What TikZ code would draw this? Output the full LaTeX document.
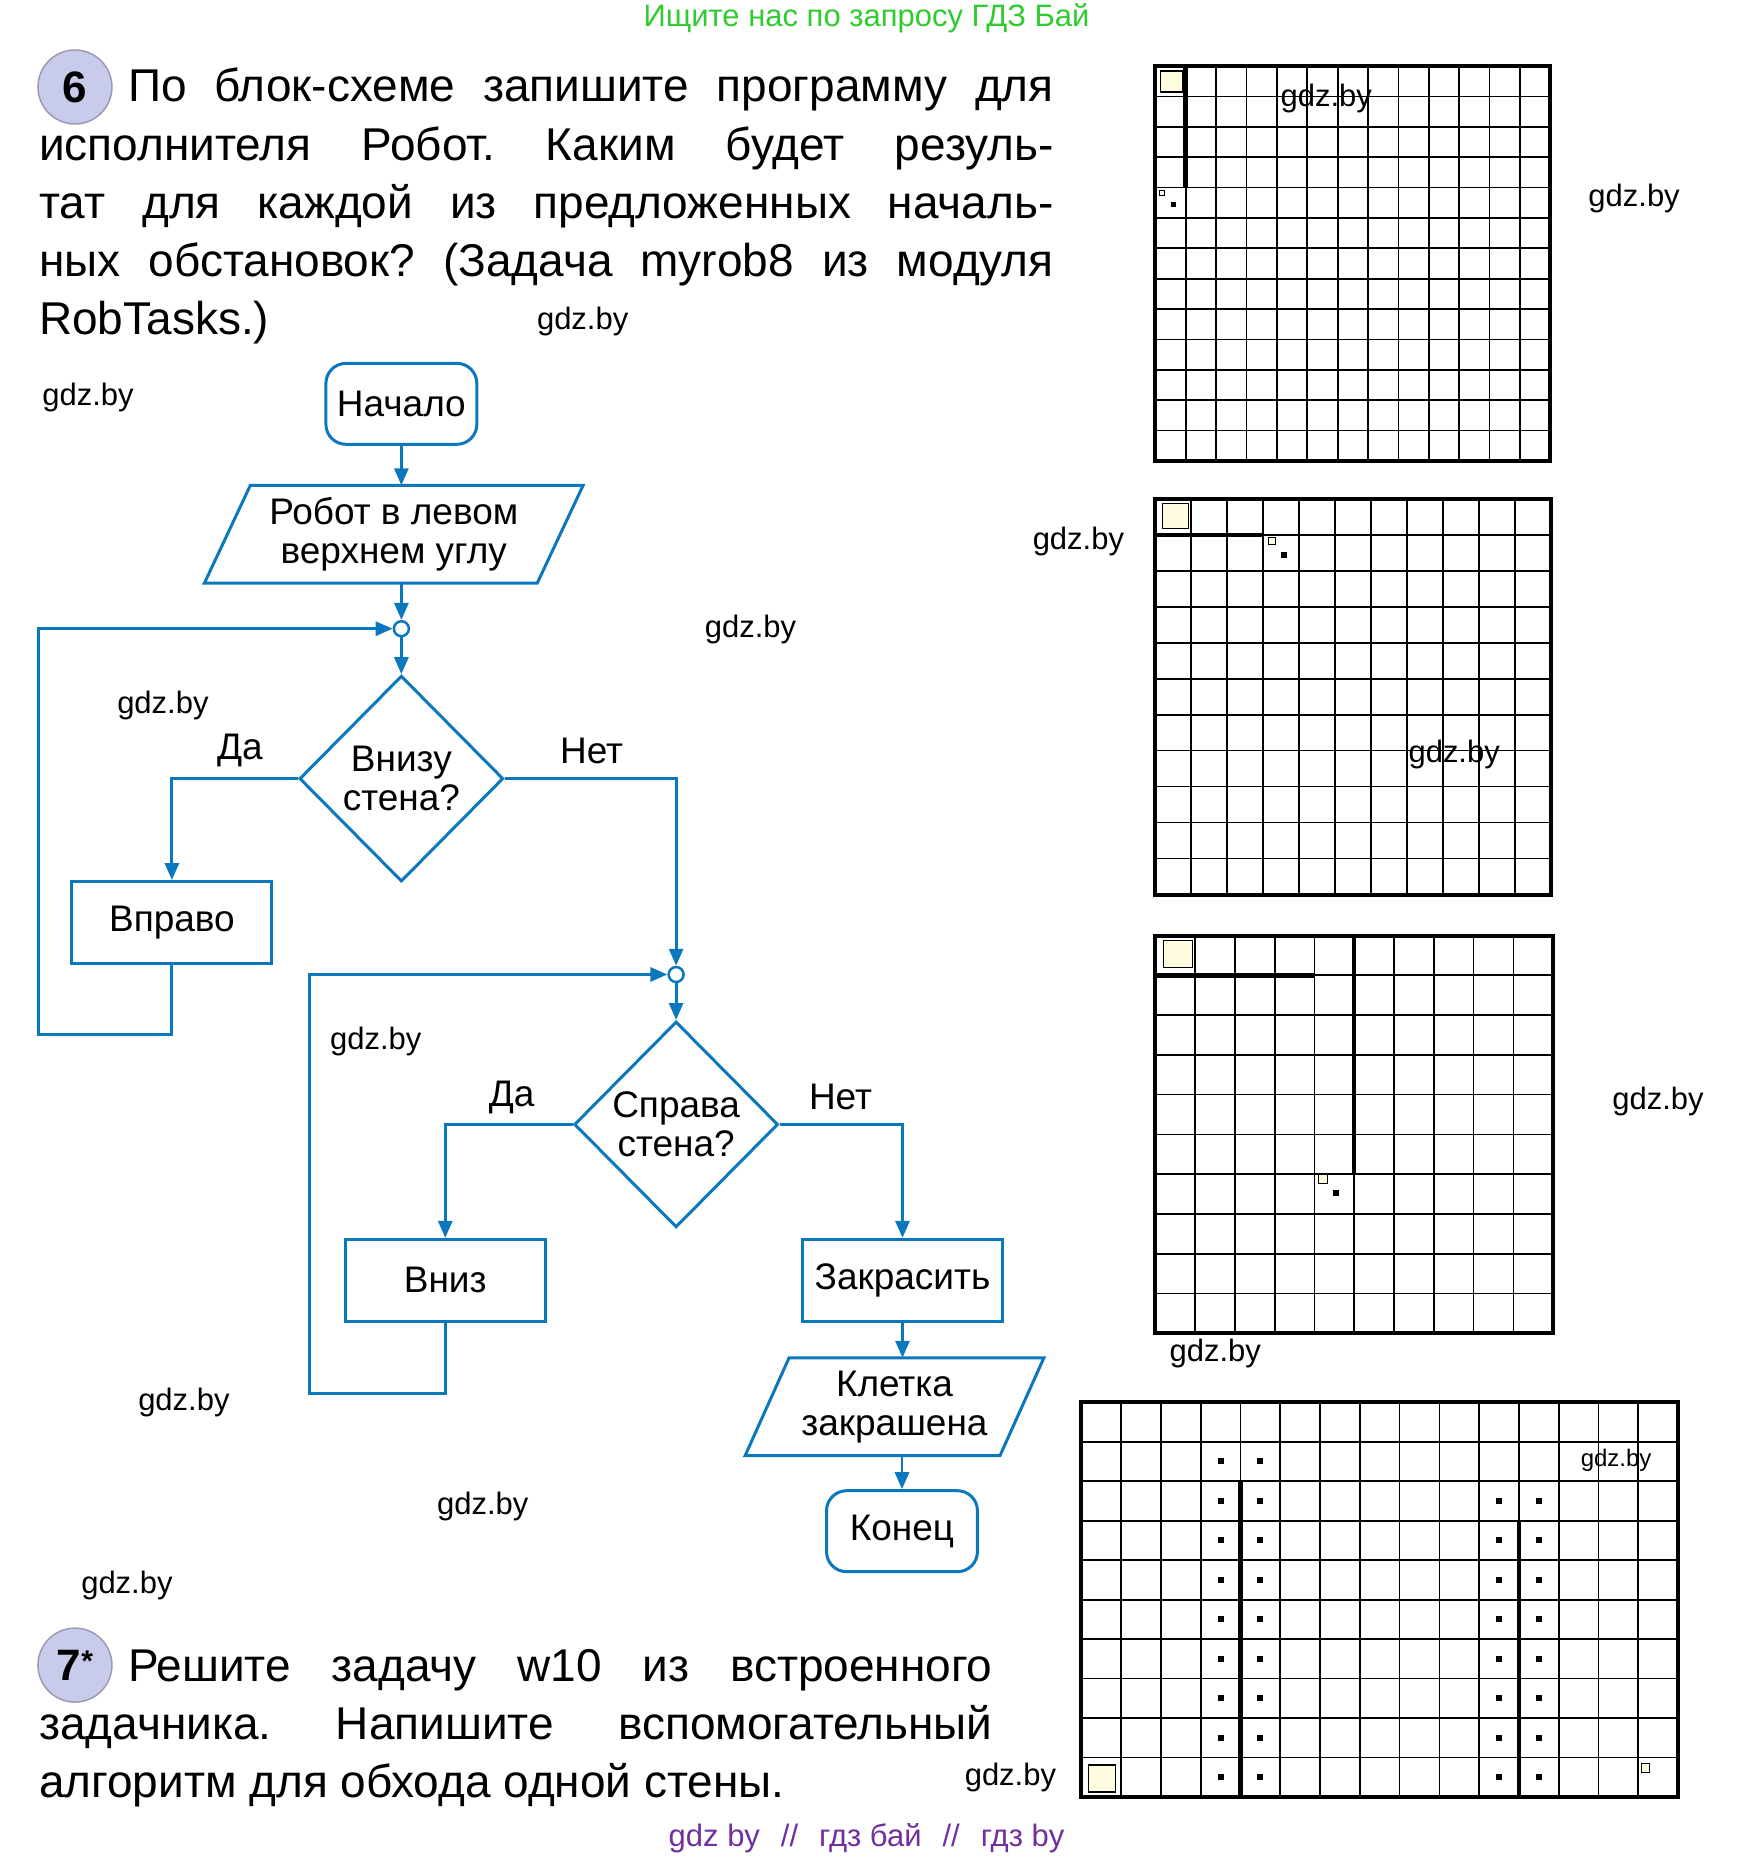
\documentclass[tikz,border=0pt]{standalone}
\usepackage{fontspec}
\setmainfont{Liberation Sans}
\usepackage{tikz}
\usetikzlibrary{arrows.meta,positioning,shapes.geometric,calc}
\definecolor{flowblue}{HTML}{0B78BE}
\definecolor{badgelav}{HTML}{C9CBEA}
\definecolor{badgerim}{HTML}{9A9AB5}
\definecolor{hdrgreen}{HTML}{2FCB2F}
\definecolor{ftrpurple}{HTML}{7030A0}
\definecolor{cellyel}{HTML}{FFFCDF}
\frenchspacing

\begin{document}
\begin{tikzpicture}[x=1pt,y=-1pt,
    txt/.style={font=\fontsize{46}{58}\selectfont, inner sep=0pt},
    wm/.style={font=\fontsize{31}{31}\selectfont, inner sep=0pt},
    flow/.style={draw=flowblue, line width=3pt, font=\fontsize{37}{39}\selectfont, align=center, text=black},
    term/.style={flow, rounded corners=20pt, minimum width=151pt, minimum height=81pt},
    proc/.style={flow, minimum width=200pt, minimum height=82pt},
    cond/.style={flow, diamond, minimum width=204pt, minimum height=206pt, inner sep=0pt},
    io/.style={flow, draw=none, minimum height=95pt},
    junc/.style={circle, draw=flowblue, line width=2.5pt, fill=white, minimum size=15pt, inner sep=0pt},
    arr/.style={draw=flowblue, line width=3pt, -{Triangle[length=17pt,width=14pt]}},
    lbl/.style={font=\fontsize{37}{37}\selectfont, inner sep=0pt},
    badge/.style={circle, fill=badgelav, draw=badgerim, line width=1.5pt, minimum size=74pt, inner sep=0pt, font=\fontsize{44}{44}\selectfont\bfseries},
    gridline/.style={line width=1.7pt},
    gridframe/.style={line width=4pt},
    wall/.style={line width=4.5pt},
    robcell/.style={line width=1.2pt, fill=cellyel}]
  \fill[white] (0,0) rectangle (1738,1858);

  % header and task 6
  \node[font=\fontsize{31}{31}\selectfont, text=hdrgreen] (hdr) at (867,17) {Ищите нас по запросу ГДЗ Бай};
  \node[badge] (b6) at (75,86) {6};
  \node[txt, anchor=base west] (p6a) at (128,101) {\makebox[926pt][s]{По блок-схеме запишите программу для}};
  \node[txt, anchor=base west] (p6b) at (39,160) {\makebox[1015pt][s]{исполнителя Робот. Каким будет резуль-}};
  \node[txt, anchor=base west] (p6c) at (39,218) {\makebox[1015pt][s]{тат для каждой из предложенных началь-}};
  \node[txt, anchor=base west] (p6d) at (39,276) {\makebox[1015pt][s]{ных обстановок? (Задача myrob8 из модуля}};
  \node[txt, anchor=base west] (p6e) at (39,334) {RobTasks.)};

  % flowchart
  \node[term] (begin) at (401.6,403) {Начало};
  \node[io, minimum width=330pt] (start) at (394,533.5) {Робот в левом\\верхнем углу};
  \draw[flowblue, line width=3pt] ([xshift=23pt]start.north west) -- ([xshift=23pt]start.north east)
    -- ([xshift=-23pt]start.south east) -- ([xshift=-23pt]start.south west) -- cycle;
  \node[junc] (j1) at (401.6,628) {};
  \node[cond] (d1) at (401.6,778) {Внизу\\стена?};
  \node[proc] (vpravo) at (172,922) {Вправо};
  \node[junc] (j2) at (676.5,974) {};
  \node[cond] (d2) at (676.5,1124) {Справа\\стена?};
  \node[proc] (vniz) at (445.5,1280) {Вниз};
  \node[proc] (zak) at (903,1280) {Закрасить};
  \node[io, minimum width=252pt] (painted) at (895,1406.5) {Клетка\\закрашена};
  \draw[flowblue, line width=3pt] ([xshift=22pt]painted.north west) -- ([xshift=22pt]painted.north east)
    -- ([xshift=-22pt]painted.south east) -- ([xshift=-22pt]painted.south west) -- cycle;
  \node[term] (stop) at (902.5,1531) {Конец};
  \coordinate (loop1) at (39,1034);
  \coordinate (loop2) at (310,1393);

  \draw[arr] (begin.south) -- (begin.south |- start.north);
  \draw[arr] (j1 |- start.south) -- (j1);
  \draw[arr] (j1) -- (d1);
  \draw[arr] (d1.west) -| (vpravo.north);
  \draw[arr] (d1.east) -| (j2.north);
  \draw[arr] (vpravo.south) |- (loop1) |- (j1.west);
  \draw[arr] (j2) -- (d2);
  \draw[arr] (d2.west) -| (vniz.north);
  \draw[arr] (d2.east) -| (zak.north);
  \draw[arr] (vniz.south) |- (loop2) |- (j2.west);
  \draw[arr] (zak.south) -- (zak.south |- painted.north);
  \draw[arr] (stop |- painted.south) -- (stop.north);
  \node[lbl] (yes1) at (240,750) {Да};
  \node[lbl] (no1) at (592,750) {Нет};
  \node[lbl] (yes2) at (512,1097) {Да};
  \node[lbl] (no2) at (841,1097) {Нет};

  % field 1
  \begin{scope}[shift={(1156,65)}]
    \foreach \k in {1,...,12} {
      \draw[gridline] (\k*30.4,0) -- (\k*30.4,395.2);
      \draw[gridline] (0,\k*30.4) -- (395.2,\k*30.4);
    }
    \draw[gridframe] (0,0) rectangle (395.2,395.2);
    \draw[wall] (30.4,0) -- (30.4,121.6);
    \draw[robcell] (5,5) rectangle (27,26);
    \draw[line width=1pt, fill=white] (4,125) rectangle (9,130);
    \fill (16,136) rectangle (21,141);
  \end{scope}

  % field 2
  \begin{scope}[shift={(1156,498)}]
    \foreach \k in {1,...,10} {
      \draw[gridline] (\k*36,0) -- (\k*36,396);
      \draw[gridline] (0,\k*36) -- (396,\k*36);
    }
    \draw[gridframe] (0,0) rectangle (396,396);
    \draw[wall] (0,36) -- (108,36);
    \draw[robcell] (7,5) rectangle (33,30);
    \draw[line width=1pt, fill=cellyel] (113,39) rectangle (120,46);
    \fill (126,53) rectangle (132,59);
  \end{scope}

  % field 3
  \begin{scope}[shift={(1156,935)}]
    \foreach \k in {1,...,9} {
      \draw[gridline] (\k*39.8,0) -- (\k*39.8,398);
      \draw[gridline] (0,\k*39.8) -- (398,\k*39.8);
    }
    \draw[gridframe] (0,0) rectangle (398,398);
    \draw[wall] (0,39.8) -- (159.2,39.8);
    \draw[wall] (199,0) -- (199,238.8);
    \draw[robcell] (8,5) rectangle (37,32);
    \draw[line width=1pt, fill=cellyel] (163,239) rectangle (172,248);
    \fill (178,255) rectangle (184,261);
  \end{scope}

  % field 4
  \begin{scope}[shift={(1082,1402)}]
    \foreach \k in {1,...,14}
      \draw[gridline] (\k*39.8,0) -- (\k*39.8,395);
    \foreach \k in {1,...,9}
      \draw[gridline] (0,\k*39.5) -- (597,\k*39.5);
    \draw[gridframe] (0,0) rectangle (597,395);
    \draw[wall] (159.2,79) -- (159.2,395);
    \draw[wall] (437.8,118.5) -- (437.8,395);
    \foreach \r in {1,...,9}
      \foreach \c in {3,4}
        \fill ({(\c+0.5)*39.8-3},{(\r+0.5)*39.5-3}) rectangle ++(6,6);
    \foreach \r in {2,...,9}
      \foreach \c in {10,11}
        \fill ({(\c+0.5)*39.8-3},{(\r+0.5)*39.5-3}) rectangle ++(6,6);
    \draw[robcell] (7,363) rectangle (34,390);
    \draw[line width=1pt, fill=cellyel] (560,361) rectangle (568,370);
  \end{scope}

  % task 7
  \node[badge] (b7) at (75,1665) {7\raisebox{9pt}{\fontsize{30}{30}\selectfont*}};
  \node[txt, anchor=base west] (p7a) at (128,1681) {\makebox[865pt][s]{Решите задачу w10 из встроенного}};
  \node[txt, anchor=base west] (p7b) at (39,1739) {\makebox[954pt][s]{задачника. Напишите вспомогательный}};
  \node[txt, anchor=base west] (p7c) at (39,1797) {алгоритм для обхода одной стены.};
  \node[text=ftrpurple, font=\fontsize{31}{31}\selectfont] (ftr) at (867,1838)
    {gdz by\hspace{21pt}//\hspace{21pt}гдз бай\hspace{21pt}//\hspace{21pt}гдз by};

  % watermarks
  \foreach \x/\y [count=\n] in {583/321, 88/397, 1327/97, 1635/198, 1079/541, 751/629, 163/705,
      1455/754, 376/1041, 1659/1101, 1216/1353, 184/1402, 483/1506, 127/1585, 1011/1777}
    \node[wm] (wm\n) at (\x,\y) {gdz.by};
  \node[wm, font=\fontsize{24}{24}\selectfont] (wm16) at (1617,1460) {gdz.by};
\end{tikzpicture}
\end{document}
